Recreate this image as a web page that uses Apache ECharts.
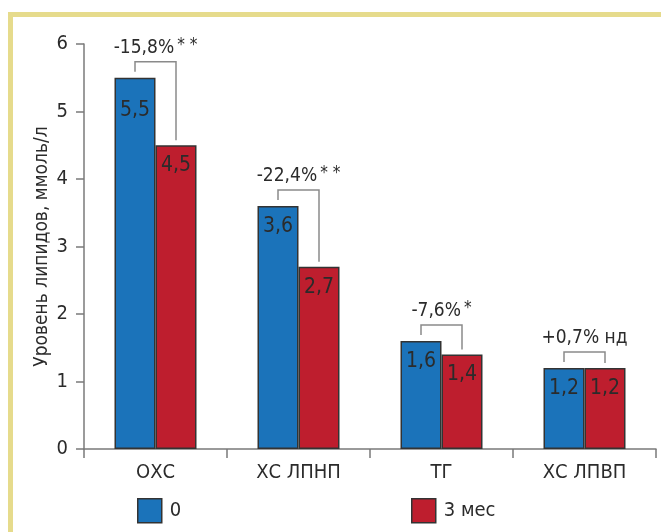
<!DOCTYPE html>
<html>
<head>
<meta charset="utf-8">
<script src="https://cdn.jsdelivr.net/npm/echarts@6/dist/echarts.min.js"></script>
<style>
  html, body { margin: 0; padding: 0; background: #ffffff; }
  #frame { position: absolute; left: 8px; top: 12px; width: 653px; height: 520px;
           border-left: 5px solid #e6db8c; border-top: 5px solid #e6db8c; box-sizing: border-box; }
  #chart { position: absolute; left: 0; top: 0; width: 661px; height: 532px; }
</style>
</head>
<body>
<div id="frame"></div>
<div id="chart"></div>
<script>
// Lipid levels before and after 3 months of treatment
const categories = ['ОХС', 'ХС ЛПНП', 'ТГ', 'ХС ЛПВП'];
const baseline = [5.5, 3.6, 1.6, 1.2];
const after3m = [4.5, 2.7, 1.4, 1.2];
const changeText = ['-15,8%', '-22,4%', '-7,6%', '+0,7% нд'];
const changeStars = ['* *', '* *', '*', ''];
const seriesNames = ['0', '3 мес'];
const yTicks = [0, 1, 2, 3, 4, 5, 6];
const yTitle = 'Уровень липидов, ммоль/л';

const FONT = '"Liberation Sans Narrow", "DejaVu Sans Condensed", "Roboto", sans-serif';
const TEXT = '#2b2b2b';
const AXIS = '#7a7a7a';
const BAR_W = 41;
const GRID = { left: 84, right: 5, top: 44, bottom: 83 };

const fmt = v => v.toFixed(1).replace('.', ',');

function barData(values) {
  return values.map((v, i) => {
    const item = { value: v };
    if (i === 0 && v > 5) item.label = { distance: 22 };
    return item;
  });
}

const bracketData = categories.map((c, i) => [i, baseline[i], after3m[i], changeText[i], changeStars[i]]);

function renderBracket(params, api) {
  const i = api.value(0);
  const v0 = api.value(1), v1 = api.value(2);
  const p0 = api.coord([i, v0]);
  const p1 = api.coord([i, v1]);
  const xL = p0[0] - BAR_W / 2;
  const xR = p1[0] + BAR_W / 2;
  const yTop = Math.min(p0[1], p1[1]) - 16;
  const txt = bracketData[params.dataIndex][3];
  const stars = bracketData[params.dataIndex][4];
  return {
    type: 'group',
    children: [
      {
        type: 'polyline',
        shape: { points: [[xL, p0[1] - 6], [xL, yTop], [xR, yTop], [xR, p1[1] - 5]] },
        style: { stroke: '#8a8a8a', lineWidth: 1.5, fill: null }
      },
      {
        type: 'text',
        x: (xL + xR) / 2,
        y: yTop - 14,
        style: {
          text: '{a|' + txt + '}' + (stars ? '{s|' + stars + '}' : ''),
          align: 'center',
          verticalAlign: 'middle',
          rich: {
            a: { fontSize: 19, fontFamily: FONT, fill: TEXT },
            s: { fontSize: 17, fontFamily: FONT, fill: TEXT, padding: [0, 0, 5, 3] }
          }
        }
      }
    ]
  };
}

const chart = echarts.init(document.getElementById('chart'), null, { renderer: 'canvas' });

const labelStyle = {
  show: true,
  position: 'insideTop',
  distance: 10,
  fontSize: 21,
  fontFamily: FONT,
  color: TEXT,
  formatter: p => fmt(p.value)
};

const legendBase = {
  top: 493,
  itemWidth: 24, itemHeight: 24,
  icon: 'rect',
  itemGap: 0,
  itemStyle: { borderColor: '#333333', borderWidth: 1.5 },
  textStyle: { fontSize: 20, fontFamily: FONT, color: TEXT, padding: [0, 0, 0, 3] }
};

const plotMidY = GRID.top + (532 - GRID.top - GRID.bottom) / 2;

chart.setOption({
  animation: false,
  textStyle: { fontFamily: FONT, color: TEXT },
  grid: Object.assign({ containLabel: false }, GRID),
  legend: [
    Object.assign({ data: [seriesNames[0]], left: 132 }, legendBase),
    Object.assign({ data: [seriesNames[1]], left: 406 }, legendBase)
  ],
  graphic: [
    {
      type: 'text',
      x: 42,
      y: plotMidY,
      rotation: Math.PI / 2,
      style: {
        text: yTitle,
        fontSize: 19,
        fontFamily: FONT,
        fill: TEXT,
        align: 'center',
        verticalAlign: 'middle'
      }
    }
  ],
  xAxis: {
    type: 'category',
    data: categories,
    axisLine: { lineStyle: { color: AXIS, width: 1.5 } },
    axisTick: { show: true, length: 9, alignWithLabel: false, lineStyle: { color: AXIS, width: 1.5 } },
    axisLabel: { fontSize: 20, fontFamily: FONT, color: TEXT, margin: 14 }
  },
  yAxis: {
    type: 'value',
    min: yTicks[0],
    max: yTicks[yTicks.length - 1],
    interval: 1,
    axisLine: { show: true, lineStyle: { color: AXIS, width: 1.5 } },
    axisTick: { show: true, length: 8, lineStyle: { color: AXIS, width: 1.5 } },
    axisLabel: { fontSize: 20, fontFamily: FONT, color: TEXT, margin: 16 },
    splitLine: { show: false }
  },
  series: [
    {
      name: seriesNames[0],
      type: 'bar',
      barWidth: BAR_W,
      barGap: '0%',
      data: barData(baseline),
      itemStyle: { color: '#1b73ba', borderColor: '#333333', borderWidth: 1.5 },
      label: labelStyle
    },
    {
      name: seriesNames[1],
      type: 'bar',
      barWidth: BAR_W,
      barGap: '0%',
      data: barData(after3m),
      itemStyle: { color: '#be1e2e', borderColor: '#333333', borderWidth: 1.5 },
      label: labelStyle
    },
    {
      type: 'custom',
      renderItem: renderBracket,
      data: bracketData.map(d => [d[0], d[1], d[2]]),
      encode: { x: 0, y: [1, 2] },
      silent: true,
      z: 5
    }
  ]
});
</script>
</body>
</html>
